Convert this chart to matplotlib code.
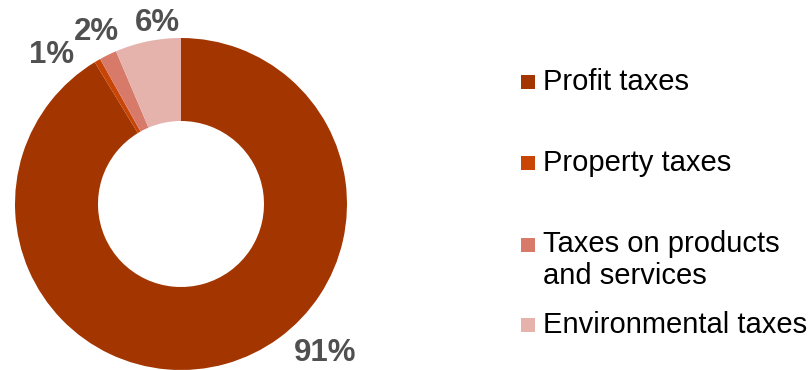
import matplotlib
matplotlib.use('Agg')
import matplotlib.pyplot as plt
import matplotlib.patches as mpatches

plt.rcParams['font.family'] = ['Liberation Sans', 'DejaVu Sans']

# data
categories = ['Profit taxes', 'Property taxes', 'Taxes on products\nand services', 'Environmental taxes']
shares = [91.3, 0.6, 1.7, 6.4]
pct_labels = ['91%', '1%', '2%', '6%']
colors = ['#A33500', '#C84506', '#D77A6A', '#E6B3AC']

# label placement (data units, pie radius = 1)
label_pos = [(0.867, -0.898), (-0.777, 0.898), (-0.512, 1.036), (-0.139, 1.09)]

fig = plt.figure(figsize=(8.1, 3.7), dpi=100)
ax = fig.add_axes([15 / 810, 0, 332 / 810, 332 / 370])

ax.pie(shares, colors=colors, startangle=90, counterclock=False,
       wedgeprops=dict(width=0.5, edgecolor='none'))
ax.set_xlim(-1, 1)
ax.set_ylim(-1, 1)
ax.set_aspect('equal')
ax.axis('off')

for txt, (x, y) in zip(pct_labels, label_pos):
    ax.text(x, y, txt, ha='center', va='center', fontsize=22.5,
            fontweight='bold', color='#505050', clip_on=False)

# legend drawn by hand (uneven spacing in the original)
marker_y = [82, 163, 245, 325]
text_y = [82, 163, 260, 325]
for cat, col, my, ty in zip(categories, colors, marker_y, text_y):
    fig.add_artist(mpatches.Rectangle((521 / 810, 1 - (my + 7) / 370), 14 / 810, 14 / 370,
                                      facecolor=col, edgecolor='none',
                                      transform=fig.transFigure))
    fig.text(543 / 810, 1 - ty / 370, cat, ha='left', va='center', fontsize=21,
             color='black', linespacing=1.17)

fig.savefig('out.png', dpi=100)
